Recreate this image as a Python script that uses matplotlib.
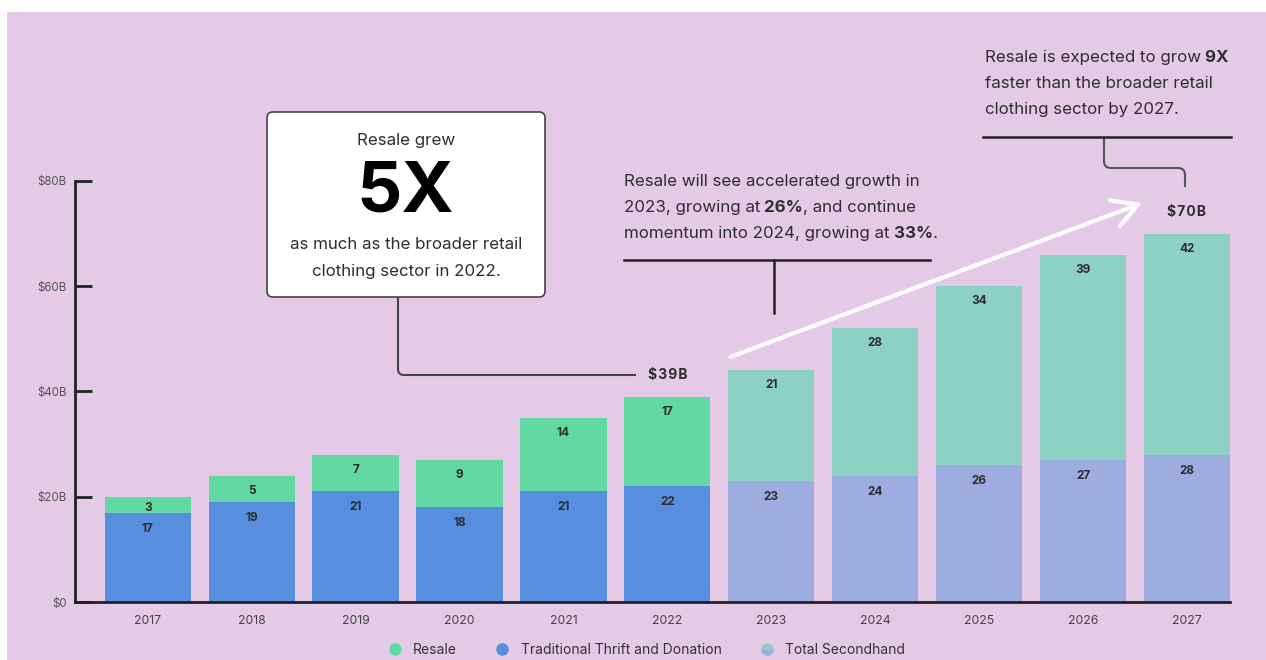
import matplotlib
matplotlib.use("Agg")
import matplotlib.pyplot as plt
from matplotlib.patches import Rectangle, FancyBboxPatch, PathPatch
from matplotlib.path import Path
from matplotlib.lines import Line2D
from matplotlib.transforms import Affine2D

plt.rcParams['font.family'] = ['Inter', 'DejaVu Sans']

# Secondhand apparel market, $B
years = ['2017', '2018', '2019', '2020', '2021', '2022',
         '2023', '2024', '2025', '2026', '2027']
thrift = [17, 19, 21, 18, 21, 22, 23, 24, 26, 27, 28]
resale = [3, 5, 7, 9, 14, 17, 21, 28, 34, 39, 42]
first_forecast = 6  # index of 2023, first projected year
y_ticks = [0, 20, 40, 60, 80]
y_tick_labels = ['$0', '$20B', '$40B', '$60B', '$80B']
legend_labels = ['Resale', 'Traditional Thrift and Donation', 'Total Secondhand']

BG = '#e4cae6'
GREEN = '#62d8a2'
BLUE = '#588ede'
TEAL = '#8dd0c4'
LAVENDER = '#9dade0'
TEXT = '#2e2e2e'
W, H = 1266, 660
NOTE = 12.2

fig = plt.figure(figsize=(W / 100, H / 100), dpi=100, facecolor='white')
# pixel coords with origin at top-left
PX = Affine2D().scale(1 / W, -1 / H).translate(0, 1) + fig.transFigure

fig.patches.append(Rectangle((7, 12), W - 7, H - 12, transform=PX,
                             facecolor=BG, edgecolor='none', zorder=-10))

ax = fig.add_axes([75 / W, (H - 602) / H, (1230 - 75) / W, (602 - 181) / H])
ax.set_facecolor('none')

x = list(range(len(years)))
c_thrift = [BLUE if i < first_forecast else LAVENDER for i in x]
c_resale = [GREEN if i < first_forecast else TEAL for i in x]
ax.bar(x, thrift, width=0.83, color=c_thrift, zorder=2)
ax.bar(x, resale, width=0.83, bottom=thrift, color=c_resale, zorder=2)

px_per_unit = (602 - 181) / 80
for i in x:
    total = thrift[i] + resale[i]
    off_r = min(15, resale[i] * px_per_unit * 0.7)
    ax.annotate(str(resale[i]), (i, total), xytext=(0, -off_r),
                textcoords='offset pixels', ha='center', va='center',
                fontsize=8.5, fontweight='bold', color=TEXT, zorder=3)
    ax.annotate(str(thrift[i]), (i, thrift[i]), xytext=(0, -16),
                textcoords='offset pixels', ha='center', va='center',
                fontsize=8.5, fontweight='bold', color=TEXT, zorder=3)

ax.set_xlim(-0.70, 10.415)
ax.set_ylim(0, 80)
ax.set_xticks(x)
ax.set_xticklabels(years, fontsize=8.8, color='#444444')
ax.tick_params(axis='x', length=0, pad=9)
ax.set_yticks(y_ticks)
ax.set_yticklabels(y_tick_labels, fontsize=8.3, color='#555555')
ax.tick_params(axis='y', direction='in', length=12, width=2, color='#222222', pad=6)
for side in ['top', 'right']:
    ax.spines[side].set_visible(False)
for side in ['left', 'bottom']:
    ax.spines[side].set_linewidth(2)
    ax.spines[side].set_color('#222222')

# total labels above 2022 and 2027, letter-spaced
for i in [5, 10]:
    total = thrift[i] + resale[i]
    ax.annotate('\u200a'.join(f'${total}B'), (i, total), xytext=(0, 22),
                textcoords='offset pixels', ha='center', va='center',
                fontsize=10, fontweight='bold', color=TEXT, zorder=3)

# growth arrow
ax.annotate('', xy=(9.57, 75.8), xytext=(5.61, 46.6),
            arrowprops=dict(arrowstyle='->,head_length=0.9,head_width=0.5',
                            color='white', lw=3, mutation_scale=20,
                            shrinkA=0, shrinkB=0), zorder=4)


def rich_line(x0, y0, parts, size=NOTE):
    r = fig.canvas.get_renderer()
    xx = x0
    for s, bold in parts:
        t = fig.text(xx, y0, s, transform=PX, fontsize=size, color=TEXT,
                     fontweight='bold' if bold else 'normal',
                     ha='left', va='baseline')
        xx += t.get_window_extent(r).width


def rounded_path(pts, r=6, color='#444444', lw=1.5):
    verts = [pts[0]]
    codes = [Path.MOVETO]
    for k in range(1, len(pts) - 1):
        (xa, ya), (xb, yb), (xc, yc) = pts[k - 1], pts[k], pts[k + 1]
        d1 = ((xb - xa) ** 2 + (yb - ya) ** 2) ** 0.5
        d2 = ((xc - xb) ** 2 + (yc - yb) ** 2) ** 0.5
        p1 = (xb - (xb - xa) / d1 * r, yb - (yb - ya) / d1 * r)
        p2 = (xb + (xc - xb) / d2 * r, yb + (yc - yb) / d2 * r)
        verts += [p1, (xb, yb), p2]
        codes += [Path.LINETO, Path.CURVE3, Path.CURVE3]
    verts.append(pts[-1])
    codes.append(Path.LINETO)
    fig.patches.append(PathPatch(Path(verts, codes), transform=PX,
                                 facecolor='none', edgecolor=color, lw=lw))


# callout box
fig.patches.append(FancyBboxPatch((267, 112), 278, 185, transform=PX,
                                  boxstyle='round,pad=0,rounding_size=6',
                                  facecolor='white', edgecolor='#444444', lw=1.2))
fig.text(406, 145, 'Resale grew', transform=PX, ha='center', va='baseline',
         fontsize=NOTE, color=TEXT)
fig.text(405, 212, '5X', transform=PX, ha='center', va='baseline',
         fontsize=51, fontweight='bold', color='black')
fig.text(406, 249, 'as much as the broader retail', transform=PX, ha='center',
         va='baseline', fontsize=NOTE, color=TEXT)
fig.text(406, 276, 'clothing sector in 2022.', transform=PX, ha='center',
         va='baseline', fontsize=NOTE, color=TEXT)
rounded_path([(398, 297), (398, 375), (636, 375)])

# middle note
rich_line(624, 186, [('Resale will see accelerated growth in', False)])
rich_line(624, 212, [('2023, growing at', False), (' 26%', True),
                     (', and continue', False)])
rich_line(624, 238, [('momentum into 2024, growing at', False), (' 33%', True),
                     ('.', False)])
fig.lines.append(Line2D([624, 930], [260, 260], transform=PX, color='#222222', lw=1.8))
fig.lines.append(Line2D([774, 774], [260, 313], transform=PX, color='#222222', lw=1.8))

# right note
rich_line(985, 62, [('Resale is expected to grow', False), (' 9X', True)])
rich_line(985, 88, [('faster than the broader retail', False)])
rich_line(985, 114, [('clothing sector by 2027.', False)])
fig.lines.append(Line2D([983, 1231], [137, 137], transform=PX, color='#222222', lw=1.8))
rounded_path([(1104, 137), (1104, 168), (1185, 168), (1185, 187)], r=7, color='#555555')

# legend
handles = [
    Line2D([], [], ls='none', marker='o', ms=9, mfc=GREEN, mec='none'),
    Line2D([], [], ls='none', marker='o', ms=9, mfc=BLUE, mec='none'),
    Line2D([], [], ls='none', marker='o', ms=9, mfc=TEAL, mfcalt=LAVENDER,
           fillstyle='top', mec='none'),
]
fig.legend(handles, legend_labels, loc='center', ncol=3, frameon=False,
           bbox_to_anchor=(643 / W, 1 - 650 / H), fontsize=10,
           handletextpad=0.3, columnspacing=2.3, labelcolor='#333333')

fig.savefig('out.png', dpi=100, facecolor='white')
